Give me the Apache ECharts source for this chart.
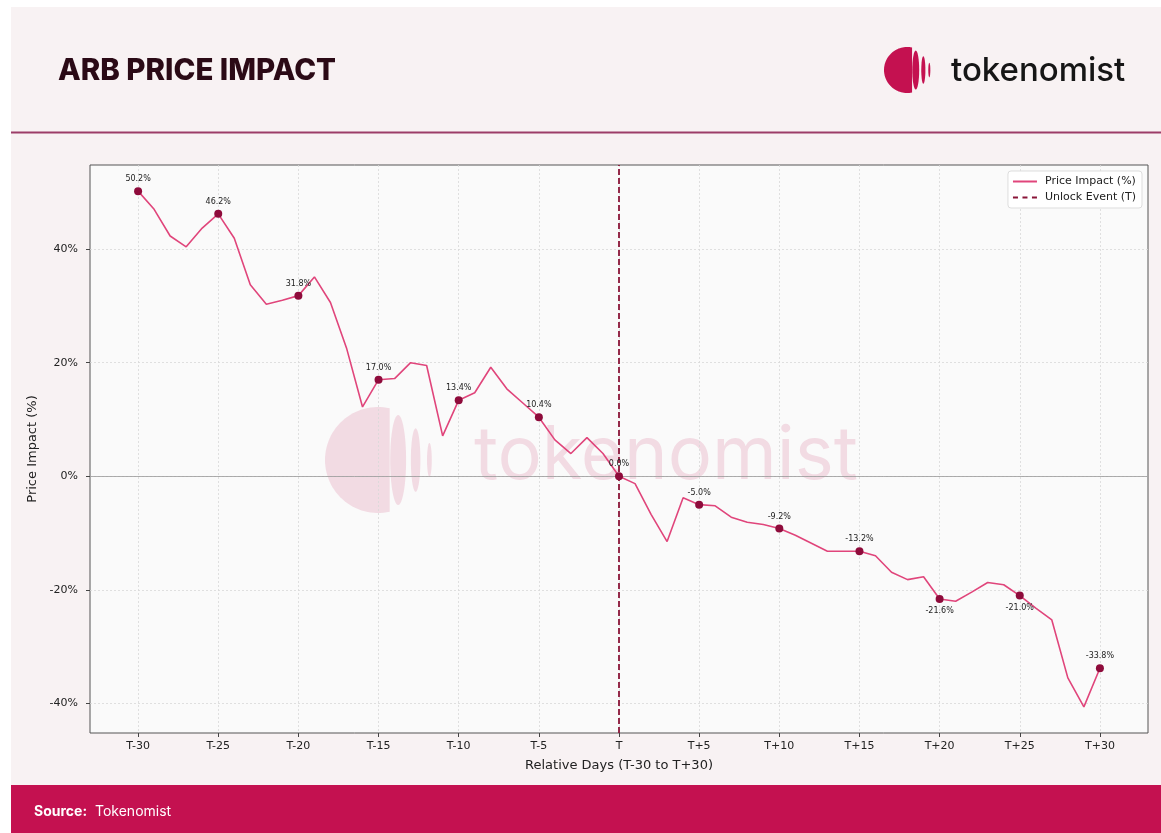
<!DOCTYPE html>
<html>
<head>
<meta charset="utf-8">
<title>ARB Price Impact</title>
<script src="https://cdn.jsdelivr.net/npm/echarts@6/dist/echarts.min.js"></script>
<style>
  html, body { margin: 0; padding: 0; background: #ffffff; }
  #chart { width: 1161px; height: 833px; }
</style>
</head>
<body>
<div id="chart"></div>
<script>
// price impact (%) per day, T-30 .. T+30
const impact = [
  50.2, 47.0, 42.3, 40.4, 43.7, 46.2, 41.9, 33.7, 30.3, 31.0,
  31.8, 35.1, 30.6, 22.6, 12.2, 17.0, 17.2, 20.0, 19.5, 7.1,
  13.4, 14.7, 19.2, 15.4, 12.9, 10.4, 6.4, 4.0, 6.8, 4.0,
  0.0, -1.3, -6.7, -11.5, -3.8, -5.0, -5.2, -7.2, -8.1, -8.5,
  -9.2, -10.4, -11.8, -13.2, -13.2, -13.2, -14.0, -16.9, -18.2, -17.7,
  -21.6, -22.0, -20.4, -18.7, -19.1, -21.0, -23.2, -25.3, -35.5, -40.6,
  -33.8
];
const firstDay = -30;

// labelled marker days (every 5 days)
const markerDays = [-30, -25, -20, -15, -10, -5, 0, 5, 10, 15, 20, 25, 30];
const labelsBelow = [20, 25];

const xTickValues = [-30, -25, -20, -15, -10, -5, 0, 5, 10, 15, 20, 25, 30];
const xTickLabels = ['T-30', 'T-25', 'T-20', 'T-15', 'T-10', 'T-5', 'T', 'T+5', 'T+10', 'T+15', 'T+20', 'T+25', 'T+30'];
const yTickValues = [-40, -20, 0, 20, 40];

const eventDay = 0;

const BRAND = '#c41150';
const LINE = '#e0457b';
const DOT = '#8e0b3b';
const EVENT = '#8a1538';

const lineData = impact.map((v, i) => [firstDay + i, v]);
const markerData = markerDays.map(d => {
  const v = impact[d - firstDay];
  return {
    value: [d, v],
    label: { position: labelsBelow.includes(d) ? 'bottom' : 'top' }
  };
});

// circle with its right side cut off (logo shape)
function cutDisc(cx, cy, r, cutX) {
  const a = Math.acos(Math.min(1, (cutX - cx) / r));
  const pts = [];
  for (let i = 0; i <= 60; i++) {
    const t = a + (2 * Math.PI - 2 * a) * i / 60;
    pts.push([cx + r * Math.cos(t), cy - r * Math.sin(t)]);
  }
  return pts;
}

function logo(cx, cy, s, style) {
  // s = disc radius
  return [
    { type: 'polygon', shape: { points: cutDisc(cx, cy, s, cx + s * 0.22) }, style },
    { type: 'ellipse', shape: { cx: cx + s * 0.38, cy, rx: s * 0.15, ry: s * 0.85 }, style },
    { type: 'ellipse', shape: { cx: cx + s * 0.71, cy, rx: s * 0.09, ry: s * 0.6 }, style },
    { type: 'ellipse', shape: { cx: cx + s * 0.97, cy, rx: s * 0.045, ry: s * 0.32 }, style }
  ];
}

const chart = echarts.init(document.getElementById('chart'), null, { renderer: 'canvas' });

const axisFont = { fontFamily: 'DejaVu Sans', fontSize: 11, color: '#222' };
const watermarkStyle = { fill: BRAND, opacity: 0.13 };

chart.setOption({
  backgroundColor: '#ffffff',
  animation: false,
  graphic: [
    // page panels
    { type: 'rect', z: -10, silent: true, shape: { x: 11, y: 7, width: 1150, height: 826 }, style: { fill: '#f8f2f3' } },
    { type: 'rect', z: -9, silent: true, shape: { x: 11, y: 131.5, width: 1150, height: 2 }, style: { fill: '#9c3d68' } },
    { type: 'rect', z: -9, silent: true, shape: { x: 11, y: 785, width: 1150, height: 48 }, style: { fill: BRAND } },
    // header
    { type: 'text', left: 58, top: 56, style: { text: 'ARB PRICE IMPACT', font: '800 29.5px Inter', fill: '#2b0a16' } },
    { type: 'group', children: logo(907, 70, 23, { fill: BRAND }) },
    { type: 'text', left: 951, top: 55, style: { text: 'tokenomist', font: '500 33px Inter', fill: '#161616' } },
    // footer
    { type: 'text', left: 34, top: 805, style: { text: 'Source:', font: 'bold 14px Inter', fill: '#ffffff' } },
    { type: 'text', left: 95, top: 805, style: { text: 'Tokenomist', font: '14px Inter', fill: '#ffffff' } },
    // watermark
    {
      type: 'group', z: 1, silent: true,
      children: logo(378, 460, 53, watermarkStyle).concat([
        { type: 'text', x: 474, y: 420, style: { text: 'tokenomist', font: '74px Inter', fill: BRAND, opacity: 0.13 } }
      ])
    }
  ],
  legend: {
    data: [
      { name: 'Price Impact (%)', icon: 'path://M0,0H24V2H0Z' },
      { name: 'Unlock Event (T)', icon: 'path://M0,0H5V2H0Z M9.5,0H14.5V2H9.5Z M19,0H24V2H19Z' }
    ],
    orient: 'vertical',
    right: 19,
    top: 171,
    itemWidth: 24,
    itemHeight: 2,
    itemGap: 5,
    padding: [5, 6, 5, 5],
    backgroundColor: '#ffffff',
    borderColor: '#dddddd',
    borderWidth: 1,
    borderRadius: 3,
    textStyle: { fontFamily: 'DejaVu Sans', fontSize: 11, color: '#222', padding: [0, 0, 0, 3] }
  },
  grid: {
    left: 90, right: 13, top: 165, bottom: 100,
    show: true,
    backgroundColor: '#fafafa',
    borderColor: '#555555',
    borderWidth: 1
  },
  xAxis: {
    type: 'value',
    min: -33,
    max: 33,
    name: 'Relative Days (T-30 to T+30)',
    nameLocation: 'middle',
    nameGap: 26,
    nameTextStyle: { fontFamily: 'DejaVu Sans', fontSize: 13, color: '#222' },
    axisLine: { show: false, onZero: false },
    axisTick: { show: true, customValues: xTickValues, length: 4, lineStyle: { color: '#444' } },
    axisLabel: {
      ...axisFont,
      customValues: xTickValues,
      margin: 8,
      formatter: v => xTickLabels[xTickValues.indexOf(v)] ?? ''
    },
    splitLine: { show: true, lineStyle: { color: '#d8d8d8', type: [2, 2], width: 0.8 } }
  },
  yAxis: {
    type: 'value',
    min: -45.2,
    max: 54.8,
    name: 'Price Impact (%)',
    nameLocation: 'middle',
    nameGap: 50,
    nameTextStyle: { fontFamily: 'DejaVu Sans', fontSize: 13, color: '#222' },
    axisLine: { show: false, onZero: false },
    axisTick: { show: true, customValues: yTickValues, length: 4, lineStyle: { color: '#444' } },
    axisLabel: { ...axisFont, customValues: yTickValues, margin: 12, formatter: v => v + '%' },
    splitLine: { show: true, lineStyle: { color: '#d8d8d8', type: [2, 2], width: 0.8 } }
  },
  series: [
    {
      name: 'Price Impact (%)',
      type: 'line',
      z: 3,
      data: lineData,
      symbol: 'none',
      lineStyle: { color: LINE, width: 1.6 },
      itemStyle: { color: LINE },
      markLine: {
        silent: true,
        symbol: 'none',
        label: { show: false },
        lineStyle: { color: '#999999', width: 0.8, type: 'solid' },
        data: [{ yAxis: 0 }]
      }
    },
    {
      name: 'Unlock Event (T)',
      type: 'line',
      z: 4,
      data: [],
      symbol: 'none',
      lineStyle: { color: EVENT, width: 2, type: [6, 3] },
      itemStyle: { color: EVENT },
      markLine: {
        silent: true,
        symbol: 'none',
        label: { show: false },
        lineStyle: { color: EVENT, width: 1.8, type: [6, 3] },
        data: [{ xAxis: eventDay }]
      }
    },
    {
      name: 'markers',
      type: 'scatter',
      z: 5,
      data: markerData,
      symbolSize: 8,
      itemStyle: { color: DOT, opacity: 1 },
      label: {
        show: true,
        distance: 4,
        fontFamily: 'DejaVu Sans',
        fontSize: 8,
        color: '#222',
        formatter: p => p.value[1].toFixed(1) + '%'
      }
    }
  ]
});
</script>
</body>
</html>
